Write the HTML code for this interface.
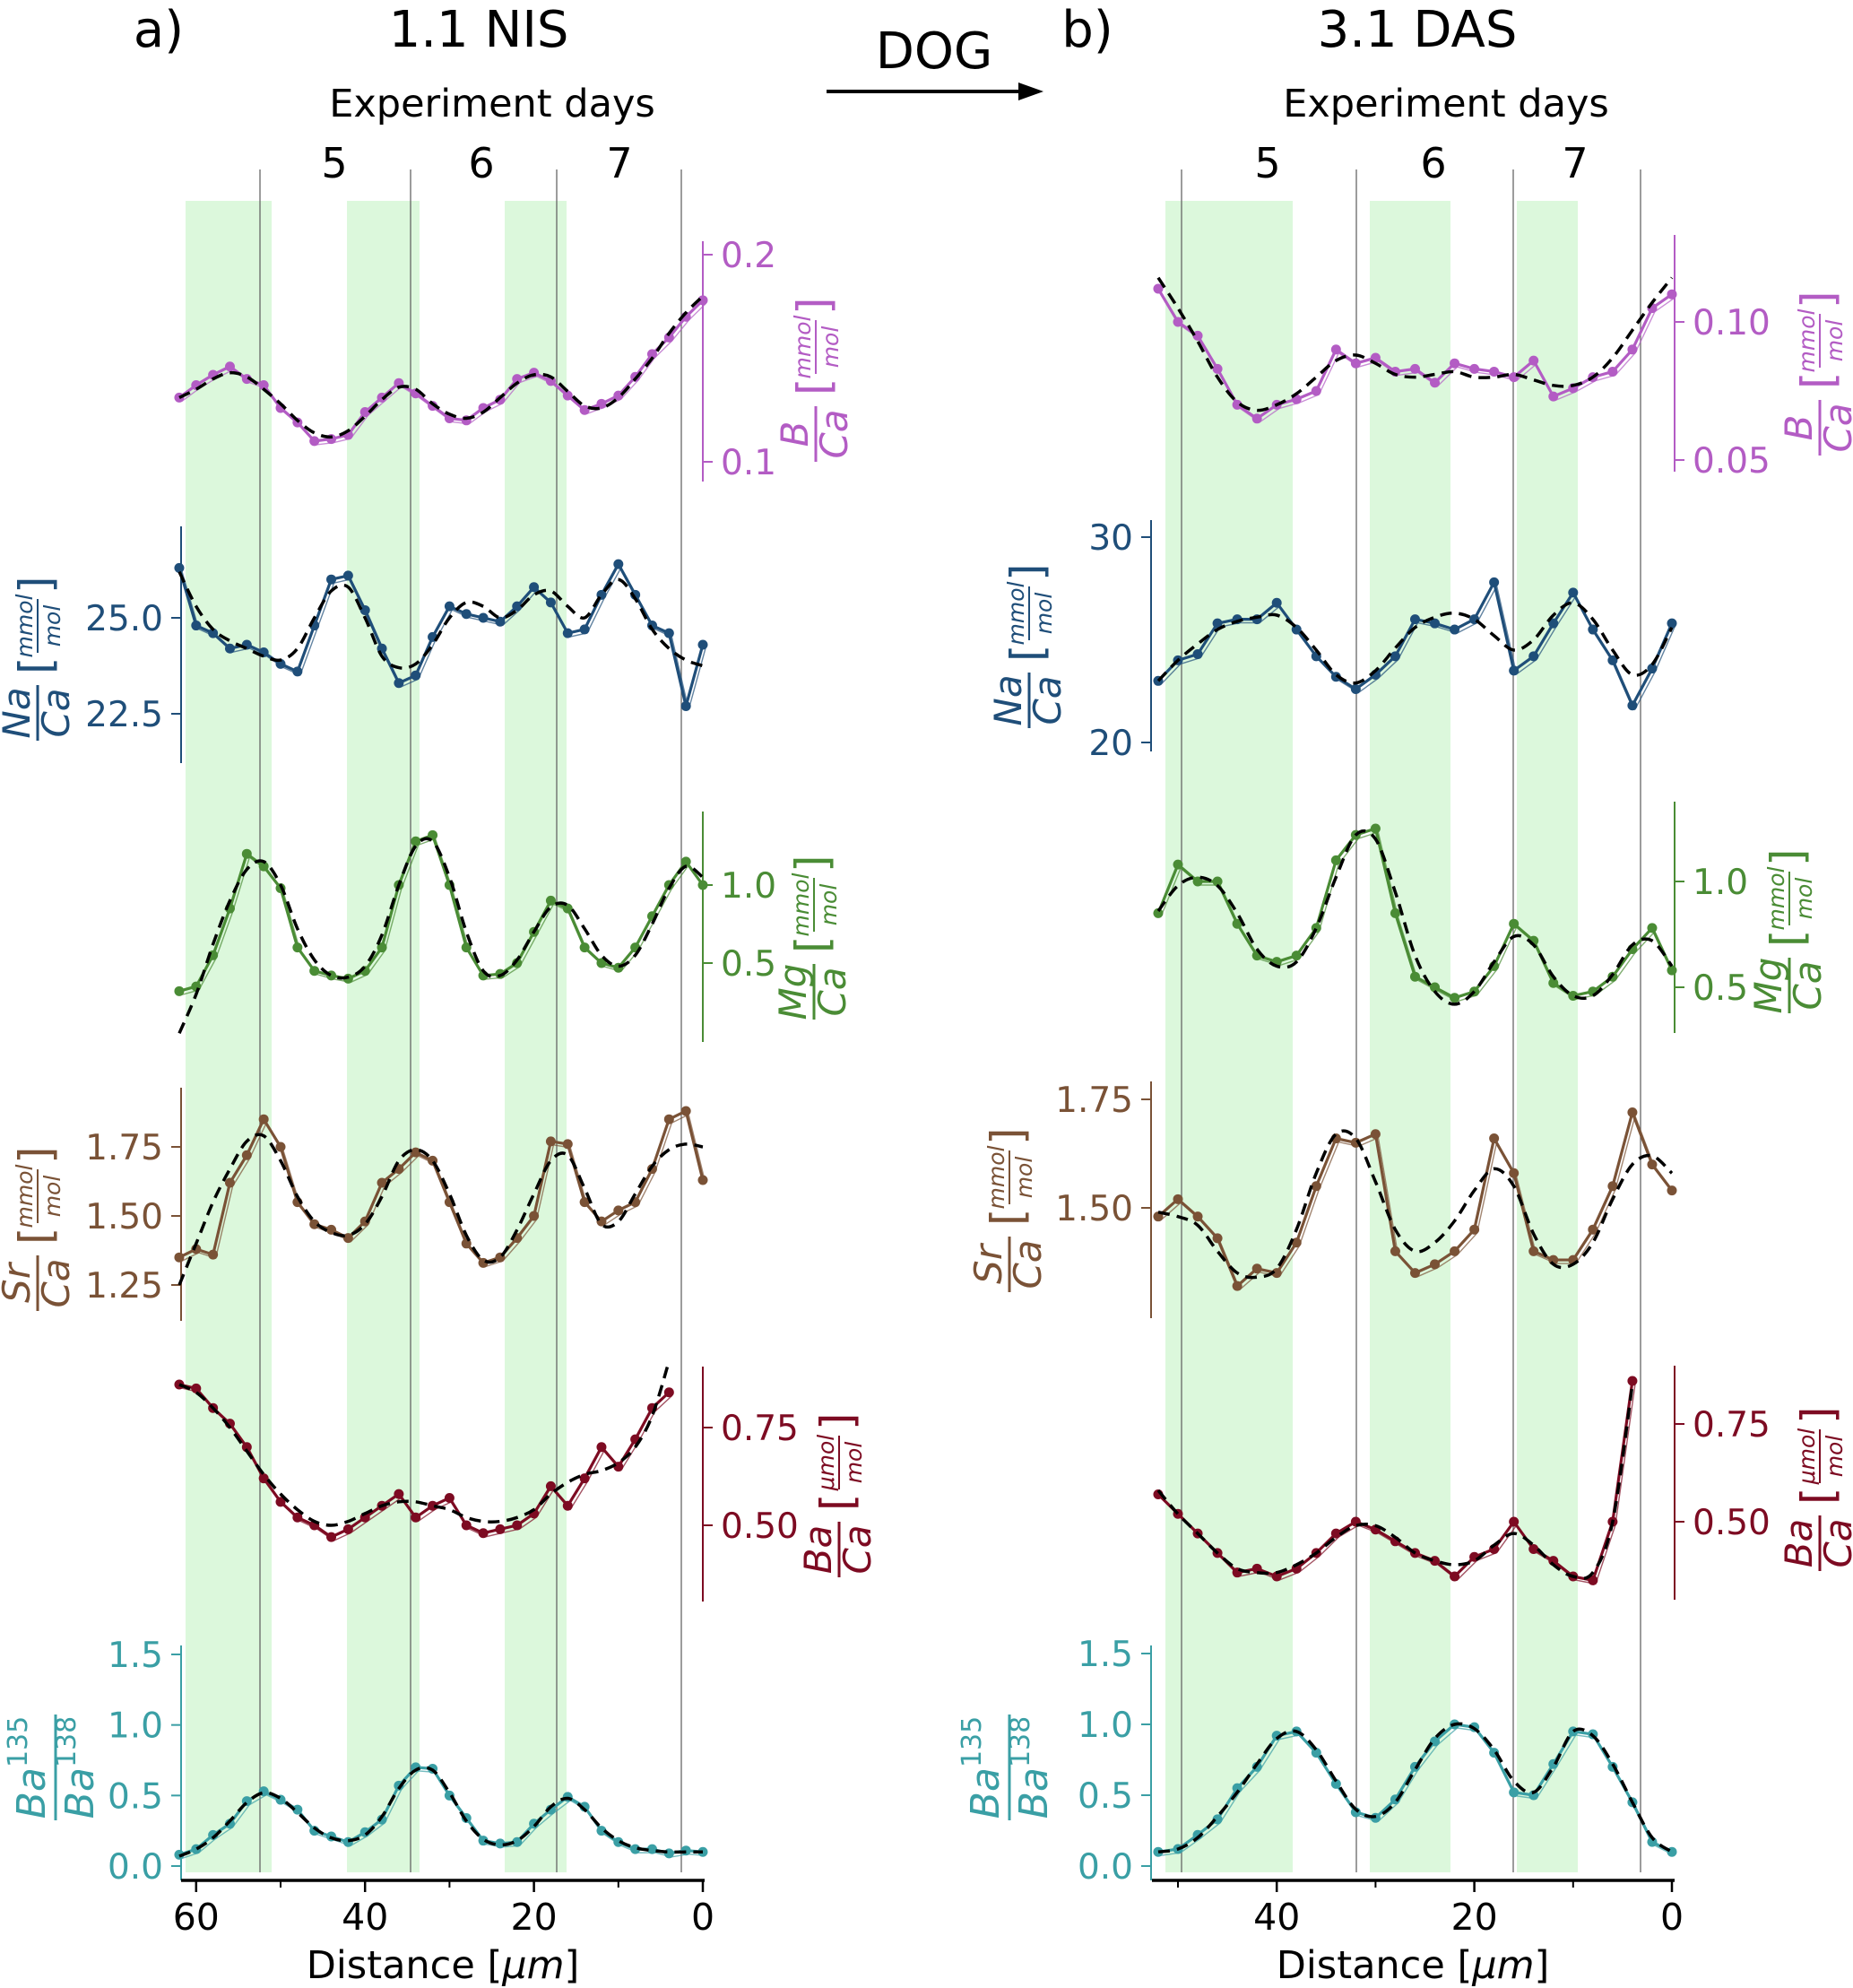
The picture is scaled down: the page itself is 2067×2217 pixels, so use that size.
<!DOCTYPE html>
<html><head><meta charset="utf-8"><style>
html,body{margin:0;padding:0;background:#fff}
svg{display:block;font-family:"DejaVu Sans","Liberation Sans",sans-serif}
</style></head><body>
<svg id="chart" width="2067" height="2217" viewBox="0 0 2067 2217" xmlns="http://www.w3.org/2000/svg">
<g id="bg"></g>
<g id="plot"></g>
<g id="txt">
 <text x="177" y="52" font-size="56" text-anchor="middle">a)</text>
 <text x="534" y="52" font-size="56" text-anchor="middle">1.1 NIS</text>
 <text x="1213" y="52" font-size="56" text-anchor="middle">b)</text>
 <text x="1581" y="52" font-size="56" text-anchor="middle">3.1 DAS</text>
 <text x="1042" y="76" font-size="56" text-anchor="middle">DOG</text>
 <line x1="922" y1="102" x2="1140" y2="102" stroke="#000" stroke-width="4"/>
 <polygon points="1164,102 1136,92 1136,112" fill="#000"/>
 <text x="549" y="130" font-size="43" text-anchor="middle">Experiment days</text>
 <text x="1613" y="130" font-size="43" text-anchor="middle">Experiment days</text>
 <text x="494" y="2206" font-size="43" text-anchor="middle">Distance [<tspan font-style="italic">μm</tspan>]</text>
 <text x="1576" y="2206" font-size="43" text-anchor="middle">Distance [<tspan font-style="italic">μm</tspan>]</text>
</g>
</svg>
<script>
// ---------- data ----------
const distA = [62,60,58,56,54,52,50,48,46,44,42,40,38,36,34,32,30,28,26,24,22,20,18,16,14,12,10,8,6,4,2,0];
const distB = [52,50,48,46,44,42,40,38,36,34,32,30,28,26,24,22,20,18,16,14,12,10,8,6,4,2,0];

const bA_dots = [0.131,0.137,0.142,0.146,0.140,0.137,0.126,0.119,0.110,0.111,0.113,0.124,0.131,0.138,0.133,0.127,0.121,0.120,0.126,0.130,0.140,0.143,0.139,0.132,0.125,0.128,0.132,0.141,0.152,0.160,0.170,0.178];
const bA_trend = [0.131,0.135,0.140,0.143,0.141,0.135,0.128,0.120,0.114,0.112,0.115,0.122,0.130,0.136,0.135,0.128,0.123,0.121,0.124,0.131,0.138,0.142,0.141,0.134,0.127,0.126,0.131,0.140,0.150,0.162,0.172,0.180];
const naA_dots = [26.3,24.8,24.6,24.2,24.3,24.1,23.8,23.6,24.8,26.0,26.1,25.2,24.2,23.3,23.5,24.5,25.3,25.1,25.0,24.9,25.3,25.8,25.4,24.6,24.7,25.6,26.4,25.6,24.8,24.6,22.7,24.3];
const naA_trend = [26.2,25.3,24.7,24.4,24.2,24.0,23.9,24.2,25.0,25.7,25.8,25.0,24.0,23.7,23.8,24.3,25.0,25.4,25.3,25.0,25.2,25.6,25.7,25.3,25.0,25.6,26.0,25.5,24.7,24.2,23.9,23.75];
const mgA_dots = [0.32,0.35,0.55,0.85,1.20,1.12,0.98,0.60,0.45,0.42,0.40,0.45,0.60,1.00,1.28,1.32,1.00,0.60,0.42,0.43,0.50,0.70,0.90,0.85,0.60,0.50,0.47,0.60,0.80,1.00,1.15,1.00];
const mgA_trend = [0.05,0.30,0.62,0.90,1.10,1.15,1.00,0.72,0.52,0.42,0.41,0.48,0.68,1.00,1.25,1.28,1.05,0.70,0.45,0.42,0.52,0.70,0.86,0.87,0.72,0.55,0.48,0.55,0.75,0.98,1.12,1.05];
const srA_dots = [1.35,1.38,1.36,1.62,1.72,1.85,1.75,1.55,1.47,1.45,1.42,1.48,1.62,1.67,1.73,1.70,1.55,1.40,1.33,1.35,1.42,1.50,1.77,1.76,1.55,1.48,1.52,1.55,1.67,1.85,1.88,1.63];
const srA_trend = [1.25,1.40,1.55,1.67,1.77,1.79,1.70,1.57,1.48,1.44,1.43,1.47,1.57,1.70,1.74,1.70,1.58,1.43,1.34,1.35,1.45,1.58,1.70,1.72,1.60,1.47,1.48,1.58,1.68,1.74,1.76,1.75];
const baA_dots = [0.86,0.85,0.80,0.76,0.70,0.62,0.56,0.52,0.50,0.47,0.49,0.52,0.55,0.58,0.52,0.55,0.57,0.50,0.48,0.49,0.50,0.53,0.60,0.55,0.62,0.70,0.65,0.72,0.80,0.84,null,null];
const baA_trend = [0.86,0.84,0.80,0.75,0.69,0.63,0.58,0.54,0.51,0.50,0.51,0.53,0.55,0.56,0.56,0.55,0.54,0.52,0.51,0.51,0.52,0.54,0.58,0.61,0.63,0.64,0.66,0.70,0.78,0.92,null,null];
const isoA_dots = [0.08,0.12,0.22,0.30,0.46,0.53,0.47,0.40,0.25,0.21,0.17,0.24,0.33,0.57,0.70,0.69,0.50,0.34,0.18,0.16,0.17,0.30,0.40,0.49,0.42,0.25,0.17,0.12,0.12,0.09,0.11,0.10];
const isoA_trend = [0.07,0.12,0.20,0.32,0.45,0.52,0.48,0.38,0.27,0.20,0.18,0.22,0.35,0.55,0.68,0.68,0.52,0.32,0.19,0.15,0.18,0.28,0.42,0.48,0.40,0.27,0.18,0.13,0.11,0.10,0.10,0.10];

const bB_dots = [0.112,0.100,0.095,0.083,0.070,0.065,0.070,0.072,0.075,0.090,0.085,0.087,0.082,0.083,0.078,0.085,0.083,0.082,0.080,0.086,0.073,0.076,0.080,0.082,0.090,0.105,0.110];
const bB_trend = [0.116,0.105,0.093,0.080,0.071,0.068,0.070,0.074,0.080,0.086,0.088,0.085,0.081,0.080,0.081,0.082,0.080,0.080,0.081,0.079,0.077,0.077,0.080,0.087,0.097,0.107,0.116];
const naB_dots = [23.0,24.0,24.3,25.8,26.0,26.0,26.8,25.5,24.2,23.2,22.6,23.3,24.2,26.0,25.8,25.5,26.0,27.8,23.5,24.2,25.8,27.3,25.5,24.0,21.8,23.6,25.8];
const naB_trend = [23.0,24.0,24.8,25.5,25.9,26.1,26.2,25.6,24.5,23.3,22.9,23.5,24.6,25.6,26.1,26.3,26.0,25.2,24.5,25.0,26.2,26.8,26.0,24.5,23.3,23.8,25.6];
const mgB_dots = [0.85,1.08,1.00,1.00,0.80,0.65,0.62,0.65,0.78,1.10,1.22,1.25,0.85,0.55,0.50,0.45,0.48,0.60,0.80,0.72,0.52,0.46,0.48,0.55,0.68,0.78,0.58];
const mgB_trend = [0.86,0.98,1.02,0.98,0.85,0.68,0.60,0.62,0.78,1.02,1.22,1.20,0.95,0.65,0.48,0.42,0.48,0.62,0.74,0.70,0.55,0.46,0.46,0.56,0.70,0.72,0.60];
const srB_dots = [1.48,1.52,1.48,1.43,1.32,1.36,1.35,1.42,1.55,1.66,1.65,1.67,1.40,1.35,1.37,1.40,1.45,1.66,1.58,1.40,1.38,1.38,1.45,1.55,1.72,1.60,1.54];
const srB_trend = [1.49,1.48,1.46,1.40,1.35,1.34,1.36,1.45,1.58,1.67,1.66,1.56,1.45,1.40,1.42,1.47,1.54,1.59,1.55,1.44,1.37,1.37,1.42,1.52,1.60,1.62,1.58];
const baB_dots = [0.57,0.52,0.47,0.42,0.37,0.38,0.36,0.38,0.42,0.47,0.50,0.48,0.45,0.42,0.40,0.36,0.41,0.43,0.50,0.43,0.40,0.36,0.35,0.50,0.86,null,null];
const baB_trend = [0.58,0.52,0.47,0.42,0.38,0.37,0.37,0.39,0.42,0.46,0.49,0.49,0.46,0.42,0.40,0.39,0.40,0.44,0.47,0.44,0.39,0.36,0.37,0.50,0.85,null,null];
const isoB_dots = [0.10,0.12,0.22,0.33,0.55,0.70,0.92,0.95,0.80,0.58,0.38,0.34,0.47,0.70,0.88,1.00,0.98,0.80,0.52,0.50,0.72,0.95,0.93,0.70,0.45,0.17,0.10];
const isoB_trend = [0.10,0.12,0.20,0.35,0.52,0.72,0.90,0.95,0.82,0.60,0.40,0.35,0.45,0.68,0.90,1.00,0.97,0.82,0.60,0.52,0.70,0.95,0.92,0.72,0.45,0.20,0.10];

const xTicks = [60,40,20,0];
const xTicksB = [40,20,0];
const dayLabels = ["5","6","7"];

// ---------- helpers ----------
const NS = "http://www.w3.org/2000/svg";
function mk(tag, attrs, parent){ const e=document.createElementNS(NS,tag); for(const k in attrs) e.setAttribute(k,attrs[k]); parent.appendChild(e); return e; }
const bg = document.getElementById('bg'), plot = document.getElementById('plot'), txtL = document.getElementById('txt');

const xA = d => 784 - d*9.42;
const xB = d => 1865 - d*11.02;
function lin(v1,y1,v2,y2){ return v => y1 + (v-v1)*(y2-y1)/(v2-v1); }

function smoothPath(pts){
  if(pts.length<2) return "";
  let d = "M"+pts[0][0].toFixed(1)+","+pts[0][1].toFixed(1);
  for(let i=0;i<pts.length-1;i++){
    const p0=pts[Math.max(0,i-1)], p1=pts[i], p2=pts[i+1], p3=pts[Math.min(pts.length-1,i+2)];
    const c1x=p1[0]+(p2[0]-p0[0])/6, c1y=p1[1]+(p2[1]-p0[1])/6;
    const c2x=p2[0]-(p3[0]-p1[0])/6, c2y=p2[1]-(p3[1]-p1[1])/6;
    d += " C"+c1x.toFixed(1)+","+c1y.toFixed(1)+" "+c2x.toFixed(1)+","+c2y.toFixed(1)+" "+p2[0].toFixed(1)+","+p2[1].toFixed(1);
  }
  return d;
}

const greenA=[[207,303],[387,468],[563,632]], greenB=[[1300,1442],[1528,1618],[1692,1760]];
greenA.concat(greenB).forEach(g=>{
  const r = mk('rect',{x:g[0],y:224,width:g[1]-g[0],height:1864,fill:'#dcf8dc'},bg);
  
  
});
const dayLinesA=[290,458,621,760], dayLinesB=[1318,1513,1688,1830];
dayLinesA.concat(dayLinesB).forEach(x=>{
  const l = mk('line',{x1:x,y1:189,x2:x,y2:2088,stroke:'#666','stroke-width':1.3},bg);
  
  
});
const dayXA=[373,537,691], dayXB=[1414,1599,1757];
dayLabels.forEach((s,i)=>{
  [dayXA[i],dayXB[i]].forEach(x=>{
    const t = mk('text',{x:x,y:198,'font-size':46,'text-anchor':'middle'},txtL);
    t.textContent=s;
    
    
  });
});

function fracLabel(cx,cy,num,den,unum,uden,sup1,sup2,color){
  const g = mk('g',{transform:`translate(${cx},${cy}) rotate(-90)`,fill:color},txtL);
  
  
  if(sup1){
    const a = mk('text',{x:0,y:-12,'font-size':44,'font-style':'italic','text-anchor':'middle'},g); a.textContent=num;
    const s=mk('tspan',{'font-size':30,'font-style':'normal',dy:-20},a); s.textContent=sup1;
    const b = mk('text',{x:0,y:42,'font-size':44,'font-style':'italic','text-anchor':'middle'},g); b.textContent=den;
    const s2=mk('tspan',{'font-size':30,'font-style':'normal',dy:-20},b); s2.textContent=sup2;
    mk('line',{x1:-59,y1:0,x2:59,y2:0,stroke:color,'stroke-width':3},g);
    return;
  }
  const w1 = 62, x0 = -105;
  const a = mk('text',{x:x0+w1/2,y:-9,'font-size':42,'font-style':'italic','text-anchor':'middle'},g); a.textContent=num;
  const b = mk('text',{x:x0+w1/2,y:35,'font-size':42,'font-style':'italic','text-anchor':'middle'},g); b.textContent=den;
  mk('line',{x1:x0,y1:0,x2:x0+w1,y2:0,stroke:color,'stroke-width':3},g);
  const bx = x0+w1+12;
  const lb = mk('text',{x:bx,y:15,'font-size':50},g); lb.textContent='[';
  const u1 = mk('text',{x:bx+54,y:-6,'font-size':25,'font-style':'italic','text-anchor':'middle'},g); u1.textContent=unum;
  const u2 = mk('text',{x:bx+54,y:25,'font-size':25,'font-style':'italic','text-anchor':'middle'},g); u2.textContent=uden;
  mk('line',{x1:bx+24,y1:0,x2:bx+84,y2:0,stroke:color,'stroke-width':2},g);
  const rb = mk('text',{x:bx+90,y:15,'font-size':50},g); rb.textContent=']';
}

function panel(o){
  const ys = lin(o.v1,o.y1,o.v2,o.y2);
  const g = mk('g',{},plot);
  
  
  const sp = mk('line',{x1:o.ax,y1:o.s0,x2:o.ax,y2:o.s1,stroke:o.color,'stroke-width':2},g);
  
  
  o.ticks.forEach(v=>{
    const y=ys(v); const dir = o.side==='right'?1:-1;
    mk('line',{x1:o.ax,y1:y,x2:o.ax+dir*11,y2:y,stroke:o.color,'stroke-width':2},g);
    const t = mk('text',{x:o.ax+dir*20,y:y+14,'font-size':39,fill:o.color,'text-anchor':o.side==='right'?'start':'end'},txtL);
    t.textContent = v.toFixed(o.dec);
    
    
  });
  const pts=[], tpts=[];
  o.dist.forEach((d,i)=>{
    if(o.dots[i]!==null) pts.push([o.xs(d),ys(o.dots[i])]);
    if(o.trend[i]!==null) tpts.push([o.xs(d),ys(o.trend[i])]);
  });
  const raw = mk('polyline',{points:pts.map(p=>p.join(',')).join(' '),fill:'none',stroke:o.color,'stroke-width':1.4,opacity:0.7,transform:'translate(3,4)'},g);
  
  
  const ln = mk('polyline',{points:pts.map(p=>p.join(',')).join(' '),fill:'none',stroke:o.color,'stroke-width':3.2,'stroke-linejoin':'round'},g);
  
  
  pts.forEach(p=>{
    const c = mk('circle',{cx:p[0],cy:p[1],r:5.5,fill:o.color},g);
    
    
  });
  const tr = mk('path',{d:smoothPath(tpts),fill:'none',stroke:'#000','stroke-width':3.5,'stroke-dasharray':'13,8'},g);
  
  
  fracLabel(o.lx,o.ly,o.num,o.den,o.unum,o.uden,o.sup1,o.sup2,o.color);
}

const P='#b35cc4', N='#1f4e79', G='#4a8c35', S='#7a5236', M='#7d0b22', T='#3a9fa5';
panel({name:'b-ca-panel-a',xs:xA,dist:distA,dots:bA_dots,trend:bA_trend,v1:0.2,y1:284,v2:0.1,y2:515,ax:784,s0:269,s1:537,side:'right',ticks:[0.2,0.1],dec:1,color:P,lx:910,ly:410,num:'B',den:'Ca',unum:'mmol',uden:'mol'});
panel({name:'na-ca-panel-a',xs:xA,dist:distA,dots:naA_dots,trend:naA_trend,v1:25,y1:689,v2:22.5,y2:796,ax:202,s0:587,s1:851,side:'left',ticks:[25,22.5],dec:1,color:N,lx:42,ly:721,num:'Na',den:'Ca',unum:'mmol',uden:'mol'});
panel({name:'mg-ca-panel-a',xs:xA,dist:distA,dots:mgA_dots,trend:mgA_trend,v1:1.0,y1:987,v2:0.5,y2:1074,ax:784,s0:905,s1:1162,side:'right',ticks:[1.0,0.5],dec:1,color:G,lx:908,ly:1032,num:'Mg',den:'Ca',unum:'mmol',uden:'mol'});
panel({name:'sr-ca-panel-a',xs:xA,dist:distA,dots:srA_dots,trend:srA_trend,v1:1.75,y1:1279,v2:1.5,y2:1356,ax:202,s0:1213,s1:1473,side:'left',ticks:[1.75,1.5,1.25],dec:2,color:S,lx:42,ly:1357,num:'Sr',den:'Ca',unum:'mmol',uden:'mol'});
panel({name:'ba-ca-panel-a',xs:xA,dist:distA,dots:baA_dots,trend:baA_trend,v1:0.75,y1:1592,v2:0.5,y2:1701,ax:784,s0:1524,s1:1786,side:'right',ticks:[0.75,0.5],dec:2,color:M,lx:936,ly:1654,num:'Ba',den:'Ca',unum:'μmol',uden:'mol'});
panel({name:'ba-isotope-panel-a',xs:xA,dist:distA,dots:isoA_dots,trend:isoA_trend,v1:1.5,y1:1845,v2:0,y2:2081,ax:202,s0:1835,s1:2097,side:'left',ticks:[1.5,1.0,0.5,0.0],dec:1,color:T,lx:62,ly:1971,num:'Ba',den:'Ba',sup1:'135',sup2:'138',unum:'',uden:''});
panel({name:'b-ca-panel-b',xs:xB,dist:distB,dots:bB_dots,trend:bB_trend,v1:0.10,y1:359,v2:0.05,y2:513,ax:1868,s0:262,s1:526,side:'right',ticks:[0.10,0.05],dec:2,color:P,lx:2030,ly:403,num:'B',den:'Ca',unum:'mmol',uden:'mol'});
panel({name:'na-ca-panel-b',xs:xB,dist:distB,dots:naB_dots,trend:naB_trend,v1:30,y1:599,v2:20,y2:828,ax:1284,s0:580,s1:838,side:'left',ticks:[30,20],dec:0,color:N,lx:1148,ly:707,num:'Na',den:'Ca',unum:'mmol',uden:'mol'});
panel({name:'mg-ca-panel-b',xs:xB,dist:distB,dots:mgB_dots,trend:mgB_trend,v1:1.0,y1:983,v2:0.5,y2:1101,ax:1868,s0:894,s1:1152,side:'right',ticks:[1.0,0.5],dec:1,color:G,lx:1996,ly:1025,num:'Mg',den:'Ca',unum:'mmol',uden:'mol'});
panel({name:'sr-ca-panel-b',xs:xB,dist:distB,dots:srB_dots,trend:srB_trend,v1:1.75,y1:1226,v2:1.5,y2:1347,ax:1284,s0:1206,s1:1470,side:'left',ticks:[1.75,1.5],dec:2,color:S,lx:1126,ly:1336,num:'Sr',den:'Ca',unum:'mmol',uden:'mol'});
panel({name:'ba-ca-panel-b',xs:xB,dist:distB,dots:baB_dots,trend:baB_trend,v1:0.75,y1:1588,v2:0.5,y2:1697,ax:1868,s0:1523,s1:1784,side:'right',ticks:[0.75,0.5],dec:2,color:M,lx:2030,ly:1647,num:'Ba',den:'Ca',unum:'μmol',uden:'mol'});
panel({name:'ba-isotope-panel-b',xs:xB,dist:distB,dots:isoB_dots,trend:isoB_trend,v1:1.5,y1:1844,v2:0,y2:2081,ax:1284,s0:1835,s1:2097,side:'left',ticks:[1.5,1.0,0.5,0.0],dec:1,color:T,lx:1126,ly:1971,num:'Ba',den:'Ba',sup1:'135',sup2:'138',unum:'',uden:''});

function xAxis(xs,x0,x1,major,minor,name){
  const g = mk('g',{},plot);
  
  
  mk('line',{x1:x0,y1:2097,x2:x1,y2:2097,stroke:'#000','stroke-width':3.5},g);
  minor.forEach(d=>mk('line',{x1:xs(d),y1:2097,x2:xs(d),y2:2105,stroke:'#000','stroke-width':2},g));
  major.forEach(d=>{
    mk('line',{x1:xs(d),y1:2097,x2:xs(d),y2:2110,stroke:'#000','stroke-width':2.5},g);
    const t = mk('text',{x:xs(d),y:2152,'font-size':41,'text-anchor':'middle'},txtL);
    t.textContent=String(d);
    
    
  });
}
xAxis(xA,202,786,xTicks,[50,30,10],'x-axis-a');
xAxis(xB,1285,1868,xTicksB,[50,30,10],'x-axis-b');
</script>
</body></html>
